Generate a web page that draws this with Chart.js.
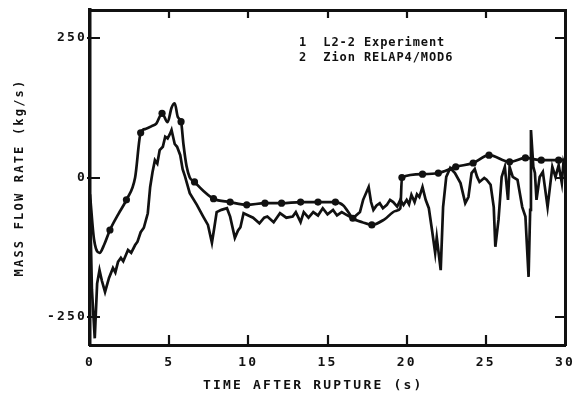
<!DOCTYPE html>
<html>
<head>
<meta charset="utf-8">
<script src="https://cdn.jsdelivr.net/npm/chart.js@4/dist/chart.umd.min.js"></script>
<style>
  html, body { margin: 0; padding: 0; background: #fff; }
</style>
</head>
<body>
<canvas id="flowChart" width="575" height="393"></canvas>
<script>
// L2-2 experiment (noisy curve)
const expTime = [0, 0.12, 0.3, 0.45, 0.6, 0.75, 0.95, 1.2, 1.45, 1.6, 1.77, 1.95, 2.1, 2.4, 2.6, 2.85, 3.0, 3.2, 3.4, 3.65,
  3.8, 3.95, 4.1, 4.25, 4.4, 4.6, 4.75, 4.9, 5.05, 5.15, 5.35, 5.5, 5.7, 5.85, 6.0, 6.3, 6.75, 7.15, 7.45, 7.7,
  7.85, 8.0, 8.3, 8.65, 8.85, 9.15, 9.35, 9.5, 9.7, 10.0, 10.3, 10.7, 11.0, 11.2, 11.6, 12.0, 12.4, 12.8, 13.0, 13.3,
  13.5, 13.8, 14.1, 14.4, 14.7, 15.0, 15.35, 15.6, 15.9, 16.2, 16.6, 17.05, 17.25, 17.6, 17.75, 17.9, 18.1, 18.3, 18.5, 18.75,
  18.95, 19.15, 19.4, 19.6, 19.8, 20.0, 20.15, 20.3, 20.5, 20.65, 20.8, 21.0, 21.2, 21.4, 21.6, 21.8, 21.9, 22.15, 22.3, 22.5,
  22.75, 23.05, 23.4, 23.7, 23.9, 24.1, 24.3, 24.45, 24.6, 24.9, 25.05, 25.3, 25.5, 25.6, 25.8, 26.0, 26.2, 26.4, 26.5, 26.7,
  27.0, 27.3, 27.5, 27.7, 27.8, 27.85, 28.0, 28.1, 28.2, 28.4, 28.6, 28.9, 29.2, 29.4, 29.6, 29.8, 29.9, 30];
const expFlow = [-40, -200, -288, -190, -166, -185, -205, -180, -162, -170, -151, -144, -150, -130, -135, -121, -115, -98, -90, -64,
  -17, 10, 31, 25, 49, 55, 73, 70, 78, 85, 60, 55, 40, 15, 2, -28, -49, -70, -85, -117,
  -90, -62, -58, -55, -70, -108, -95, -89, -64, -68, -72, -82, -72, -70, -80, -64, -72, -70, -62, -80,
  -62, -72, -62, -68, -55, -66, -58, -68, -62, -67, -73, -62, -40, -17, -44, -58, -50, -46, -55, -49,
  -40, -44, -52, -40, -49, -40, -48, -31, -44, -30, -35, -17, -40, -55, -94, -135, -107, -166, -53, 1,
  17, 8, -10, -46, -35, 8, 15, 1, -8, -1, -4, -13, -53, -124, -76, 1, 19, -40, 19, 1,
  -4, -53, -70, -178, -58, 85, 19, 8, -40, 1, 10, -53, 19, 1, 22, -10, 26, 15];

// Zion RELAP4/MOD6 calculation (curve with symbols)
const calcTime = [0, 0.25, 0.6, 0.9, 1.26, 1.8, 2.3, 2.85, 3.2, 3.5, 3.9, 4.2, 4.55, 4.9, 5.15, 5.35, 5.55, 5.75, 5.9, 6.1,
  6.3, 6.6, 7.2, 7.8, 8.85, 9.9, 11.05, 12.1, 13.3, 14.4, 15.5, 16.0, 16.6, 17.2, 17.8, 18.6, 19.3, 19.6, 19.7, 21.0,
  22.0, 23.1, 24.2, 25.2, 26.5, 27.5, 28.5, 29.6, 30];
const calcFlow = [-30, -110, -135, -120, -94, -65, -40, 0, 80, 87, 92, 97, 115, 99, 125, 133, 108, 100, 60, 20,
  0, -8, -25, -38, -44, -49, -46, -46, -44, -44, -44, -50, -73, -80, -85, -75, -60, -55, 0, 6,
  8, 19, 26, 40, 28, 35, 31, 31, 32];
const calcMarkerTimes = [1.26, 2.3, 3.2, 4.55, 5.75, 6.6, 7.8, 8.85, 9.9, 11.05, 12.1, 13.3, 14.4, 15.5, 16.6, 17.8,
  19.7, 21.0, 22.0, 23.1, 24.2, 25.2, 26.5, 27.5, 28.5, 29.6];

const xTickValues = [5, 10, 15, 20, 25];
const yTickValues = [-250, 0, 250];
const legendLines = ["1  L2-2 Experiment", "2  Zion RELAP4/MOD6"];
const xTitle = "TIME AFTER RUPTURE (s)";

const ink = "#111";
const monoBold = { family: "'DejaVu Sans Mono', monospace", weight: "bold" };

// wide typewriter lettering, inward tick marks, curve key and x title
const framePlugin = {
  id: "frame",
  beforeDraw(chart) {
    chart.ctx.letterSpacing = "2.2px";
  },
  afterDraw(chart) {
    const ctx = chart.ctx;
    const xs = chart.scales.x;
    const ys = chart.scales.y;
    const area = chart.chartArea;
    const tick = 10;

    ctx.save();
    ctx.strokeStyle = ink;
    ctx.lineWidth = 2.2;
    ctx.beginPath();
    xTickValues.forEach(function (v) {
      const px = Math.round(xs.getPixelForValue(v));
      ctx.moveTo(px, area.bottom);
      ctx.lineTo(px, area.bottom - tick);
      ctx.moveTo(px, area.top);
      ctx.lineTo(px, area.top + tick - 2);
    });
    yTickValues.forEach(function (v) {
      const py = Math.round(ys.getPixelForValue(v));
      ctx.moveTo(area.left - 3, py);
      ctx.lineTo(area.left + tick, py);
      ctx.moveTo(area.right, py);
      ctx.lineTo(area.right - tick, py);
    });
    ctx.stroke();

    ctx.fillStyle = ink;
    ctx.font = "bold 13px 'DejaVu Sans Mono', monospace";
    ctx.letterSpacing = "2.2px";
    ctx.textAlign = "center";
    ctx.textBaseline = "middle";
    ctx.fillText(xTitle, xs.getPixelForValue(14.1), 386);

    ctx.letterSpacing = "0.9px";
    ctx.font = "bold 12px 'DejaVu Sans Mono', monospace";
    ctx.textAlign = "left";
    legendLines.forEach(function (line, i) {
      ctx.fillText(line, xs.getPixelForValue(13.2), ys.getPixelForValue(242 - i * 28));
    });
    ctx.restore();
  }
};

const hiddenGrid = { display: false, drawTicks: false };

function noEdgePadding(s) {
  s.paddingLeft = 0;
  s.paddingRight = 0;
  s.paddingTop = 0;
  s.paddingBottom = 0;
}

const ctx = document.getElementById("flowChart").getContext("2d");

new Chart(ctx, {
  type: "line",
  data: {
    datasets: [
      {
        label: "L2-2 Experiment",
        data: expTime.map((t, i) => ({ x: t, y: expFlow[i] })),
        borderColor: ink,
        borderWidth: 2.7,
        pointRadius: 0,
        tension: 0
      },
      {
        label: "Zion RELAP4/MOD6",
        data: calcTime.map((t, i) => ({ x: t, y: calcFlow[i] })),
        borderColor: ink,
        backgroundColor: ink,
        borderWidth: 2.7,
        pointRadius: (c) => (calcMarkerTimes.includes(calcTime[c.dataIndex]) ? 3.6 : 0),
        pointBorderWidth: 0,
        cubicInterpolationMode: "monotone"
      }
    ]
  },
  options: {
    responsive: false,
    animation: false,
    layout: { padding: { left: 12, right: 10, top: 10, bottom: 0 } },
    plugins: {
      legend: { display: false },
      tooltip: { enabled: false }
    },
    scales: {
      x: {
        type: "linear",
        position: "bottom",
        min: 0,
        max: 30,
        ticks: { stepSize: 5, color: ink, font: { ...monoBold, size: 13 }, padding: 10, maxRotation: 0 },
        grid: hiddenGrid,
        border: { display: true, color: ink, width: 3 },
        afterFit: (s) => { s.height = 48; noEdgePadding(s); }
      },
      x2: {
        type: "linear",
        position: "top",
        min: 0,
        max: 30,
        ticks: { display: false },
        grid: hiddenGrid,
        border: { display: true, color: ink, width: 3 },
        afterFit: (s) => { s.height = 0; noEdgePadding(s); }
      },
      y: {
        type: "linear",
        position: "left",
        min: -300,
        max: 300,
        afterBuildTicks: (s) => { s.ticks = yTickValues.map((v) => ({ value: v })); },
        ticks: { color: ink, font: { ...monoBold, size: 13 }, padding: 3 },
        grid: hiddenGrid,
        border: { display: true, color: ink, width: 3.5 },
        title: {
          display: true,
          text: "MASS FLOW RATE (kg/s)",
          color: ink,
          font: { ...monoBold, size: 12, lineHeight: 16 / 12 },
          padding: 0
        },
        afterFit: (s) => { s.width = 78; noEdgePadding(s); }
      },
      y2: {
        type: "linear",
        position: "right",
        min: -300,
        max: 300,
        ticks: { display: false },
        grid: hiddenGrid,
        border: { display: true, color: ink, width: 3 },
        afterFit: (s) => { s.width = 0; noEdgePadding(s); }
      }
    }
  },
  plugins: [framePlugin]
});
</script>
</body>
</html>
